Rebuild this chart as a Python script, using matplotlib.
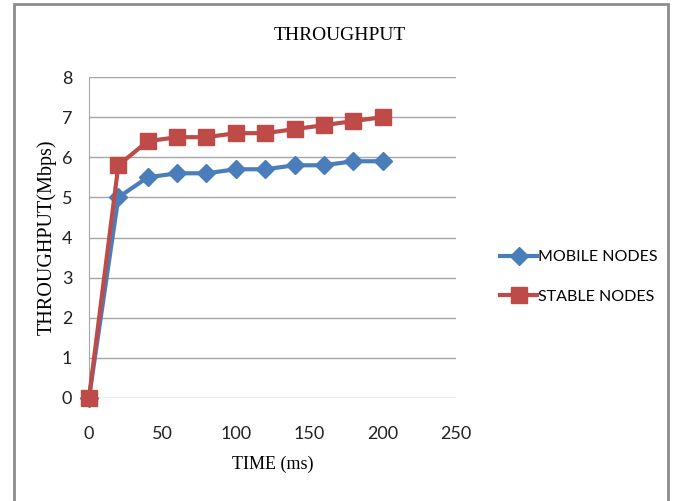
import matplotlib
matplotlib.use("Agg")
import matplotlib.pyplot as plt
from matplotlib.patches import Rectangle

time_ms = [0, 20, 40, 60, 80, 100, 120, 140, 160, 180, 200]
mobile_nodes = [0, 5.0, 5.5, 5.6, 5.6, 5.7, 5.7, 5.8, 5.8, 5.9, 5.9]
stable_nodes = [0, 5.8, 6.4, 6.5, 6.5, 6.6, 6.6, 6.7, 6.8, 6.9, 7.0]
x_ticks = [0, 50, 100, 150, 200, 250]
y_ticks = [0, 1, 2, 3, 4, 5, 6, 7, 8]

W, H = 675, 501
fig = plt.figure(figsize=(W / 100, H / 100), dpi=100)
fig.patches.append(Rectangle((14 / W, -0.02), (668 - 14) / W, (H - 4) / H + 0.02,
                             transform=fig.transFigure, fill=False,
                             edgecolor="#8c8c8c", lw=2, zorder=0))

ax = fig.add_axes([89 / W, 1 - 398 / H, (456 - 89) / W, (398 - 77) / H])
blue = "#4a7ebb"
red = "#be4b48"
ax.plot(time_ms, mobile_nodes, color=blue, lw=3, marker="D", ms=9,
        label="MOBILE NODES", zorder=3, clip_on=False)
ax.plot(time_ms, stable_nodes, color=red, lw=3, marker="s", ms=11,
        label="STABLE NODES", zorder=4, clip_on=False)

ax.set_xlim(0, 250)
ax.set_ylim(0, 8)
ax.set_xticks(x_ticks)
ax.set_yticks(y_ticks)
ax.grid(axis="y", color="#a6a6a6", lw=1)
ax.set_axisbelow(True)
for s in ["top", "right", "bottom"]:
    ax.spines[s].set_visible(False)
ax.spines["left"].set_color("#a6a6a6")
ax.tick_params(length=0, labelsize=13, colors="#222222")
ax.tick_params(axis="x", pad=20)
ax.tick_params(axis="y", pad=12)
for lab in ax.get_xticklabels() + ax.get_yticklabels():
    lab.set_family("Lato")

fig.text(340 / W, 1 - 35 / H, "THROUGHPUT", family="Liberation Serif",
         fontsize=14, ha="center", va="center")
ax.set_xlabel("TIME (ms)", family="Liberation Serif", fontsize=13, labelpad=10)
fig.text(47 / W, 1 - 237 / H, "THROUGHPUT(Mbps)", family="Liberation Serif",
         fontsize=14.5, ha="center", va="center", rotation=90)

leg = fig.legend(loc="center left", bbox_to_anchor=(486 / W, 1 - 277 / H),
                 frameon=False, prop={"family": "Lato", "size": 11.5},
                 handlelength=2.3, labelspacing=1.6, handletextpad=0.05)

fig.savefig("out.png", dpi=100)
